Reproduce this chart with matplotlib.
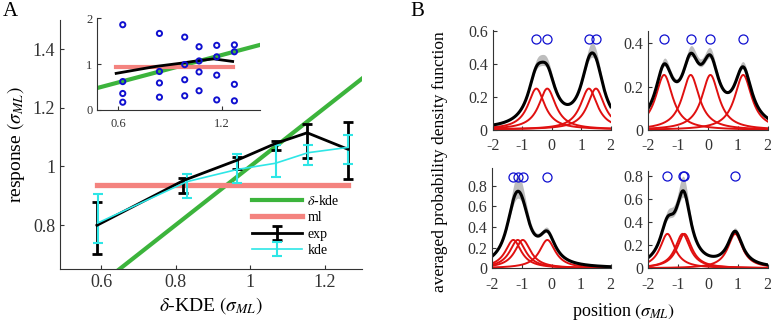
import matplotlib
matplotlib.use("Agg")
import matplotlib.pyplot as plt
import numpy as np

plt.rcParams['font.family'] = ['Liberation Serif', 'DejaVu Serif']
plt.rcParams['mathtext.fontset'] = 'stix'
plt.rcParams['axes.unicode_minus'] = False
plt.rcParams['xtick.direction'] = 'in'
plt.rcParams['ytick.direction'] = 'in'

# ---- panel A data ----
x_exp = [0.589, 0.821, 0.966, 1.069, 1.153, 1.262]
y_exp = [0.799, 0.952, 1.022, 1.079, 1.115, 1.059]
exp_lo = [0.097, 0.042, 0.030, 0.023, 0.085, 0.102]
exp_hi = [0.079, 0.008, 0.012, 0.008, 0.030, 0.093]

x_kde = [0.591, 0.830, 0.966, 1.068, 1.155, 1.262]
y_kde = [0.807, 0.948, 0.990, 1.011, 1.047, 1.065]
kde_lo = [0.068, 0.056, 0.045, 0.046, 0.042, 0.056]
kde_hi = [0.099, 0.027, 0.053, 0.062, 0.026, 0.042]

ml_level = 0.936
ml_range = [0.589, 1.262]
dkde_range = [0.4, 1.5]

# inset scatter (blue circles)
ins_x = [0.627] * 4 + [0.839] * 4 + [0.985] * 4 + [1.068] * 4 + [1.17] * 4 + [1.272] * 4
ins_y = [1.86, 0.62, 0.36, 0.17,
         1.67, 0.84, 0.59, 0.28,
         1.59, 0.99, 0.66, 0.31,
         1.38, 1.07, 0.83, 0.42,
         1.41, 1.16, 0.76, 0.22,
         1.42, 1.27, 0.56, 0.20]

# ---- panel B data ----
b_centers = [[-0.52, -0.15, 1.26, 1.50],
             [-1.47, -0.58, 0.08, 1.18],
             [-1.29, -1.14, -0.97, -0.14],
             [-1.36, -0.85, -0.79, 0.91]]
b_heights = [0.25, 0.254, 0.275, 0.30]
b_widths = [0.35, 0.35, 0.33, 0.30]
b_ylim = [0.605, 0.458, 0.97, 0.85]
b_ticks = [[0, 0.2, 0.4, 0.6], [0, 0.2, 0.4], [0, 0.2, 0.4, 0.6, 0.8], [0, 0.2, 0.4, 0.6, 0.8]]
b_circle_y = [0.553, 0.422, 0.89, 0.80]
band_up = 0.28
band_dn = 0.12

green = '#3cb43c'
salmon = '#f4837f'
cyan = '#2ee6e6'
blue = '#1010d0'
red = '#e01010'
spine_c = '#333333'

fig = plt.figure(figsize=(7.71, 3.24), dpi=100)


def style(ax, size):
    for s in ['top', 'right']:
        ax.spines[s].set_visible(False)
    for s in ['left', 'bottom']:
        ax.spines[s].set_color(spine_c)
        ax.spines[s].set_linewidth(0.8)
    ax.tick_params(colors=spine_c, labelsize=size, length=3, width=0.8)


# ---- main panel A ----
ax = fig.add_axes([60 / 771, 55 / 324, 302 / 771, 249 / 324])
style(ax, 13)
ax.plot(dkde_range, dkde_range, color=green, lw=3, label=r'$\delta$-kde')
ax.plot(ml_range, [ml_level, ml_level], color=salmon, lw=3.8, label='ml')
ax.errorbar(x_exp, y_exp, yerr=[exp_lo, exp_hi], color='black', lw=2,
            elinewidth=2, capsize=3.6, capthick=2, label='exp')
ax.errorbar(x_kde, y_kde, yerr=[kde_lo, kde_hi], color=cyan, lw=1.2,
            elinewidth=1.5, capsize=3.6, capthick=1.5, label='kde')
ax.set_xlim(0.49, 1.30)
ax.set_ylim(0.65, 1.50)
ax.set_xticks([0.6, 0.8, 1.0, 1.2])
ax.set_xticklabels(['0.6', '0.8', '1', '1.2'])
ax.set_yticks([0.8, 1.0, 1.2, 1.4])
ax.set_yticklabels(['0.8', '1', '1.2', '1.4'])
ax.set_xlabel(r'$\delta$-KDE $(\sigma_{ML})$', fontsize=14, labelpad=3)
ax.set_ylabel(r'response $(\sigma_{ML})$', fontsize=14, labelpad=4)
ax.legend(loc='lower right', bbox_to_anchor=(0.95, 0.02), frameon=False,
          fontsize=10, handlelength=3.6, labelspacing=0.25, borderpad=0,
          handletextpad=0.4)

# inset
ins = fig.add_axes([97.3 / 771, 214 / 324, 162.7 / 771, 91.7 / 324])
style(ins, 9)
ins.plot(dkde_range, dkde_range, color=green, lw=3)
ins.plot(ml_range, [ml_level, ml_level], color=salmon, lw=3)
ins.plot(x_exp, y_exp, color='black', lw=2)
ins.scatter(ins_x, ins_y, s=14, facecolors='none', edgecolors=blue, linewidths=1.4, zorder=5)
ins.set_xlim(0.48, 1.42)
ins.set_ylim(0, 2)
ins.set_xticks([0.6, 1.2])
ins.set_xticklabels(['0.6', '1.2'])
ins.set_yticks([0, 1, 2])
ins.tick_params(axis='x', pad=6)

# ---- panel B ----
pos_b = [[492.7, 30.5, 610.7, 129.5],
         [648.3, 30.7, 767.7, 130.0],
         [492.3, 168.3, 610.7, 268.3],
         [648.3, 170.7, 767.7, 268.3]]
xs = np.linspace(-2, 2, 400)
for i in range(4):
    l, t, r, b = pos_b[i]
    a = fig.add_axes([l / 771, (324 - b) / 324, (r - l) / 771, (b - t) / 324])
    style(a, 11.5)
    comps = [b_heights[i] / (1 + ((xs - c) / b_widths[i]) ** 2) for c in b_centers[i]]
    total = np.sum(comps, axis=0)
    a.fill_between(xs, total - band_dn * total ** 2, total + band_up * total ** 2,
                   color='#bdbdbd', lw=0)
    for cmp in comps:
        a.plot(xs, cmp, color=red, lw=1.4)
    a.plot(xs, total, color='black', lw=2.2)
    a.plot(b_centers[i], [b_circle_y[i]] * 4, 'o', ms=6.5, mfc='none', mec=blue, mew=0.9)
    a.set_xlim(-2, 2)
    a.set_ylim(0, b_ylim[i])
    a.set_xticks([-2, -1, 0, 1, 2])
    a.set_yticks(b_ticks[i])
    a.set_yticklabels([('%g' % v) for v in b_ticks[i]])
    a.tick_params(axis='x', pad=6)

fig.text(440 / 771, 0.5, 'averaged probability density function', rotation=90,
         ha='center', va='center', fontsize=12.5)
fig.text(624 / 771, 0.038, r'position $(\sigma_{ML})$', ha='center', va='center', fontsize=13)

fig.text(0.004, 0.995, 'A', fontsize=15, ha='left', va='top')
fig.text(0.532, 0.995, 'B', fontsize=15, ha='left', va='top')

fig.savefig('out.png', dpi=100)
